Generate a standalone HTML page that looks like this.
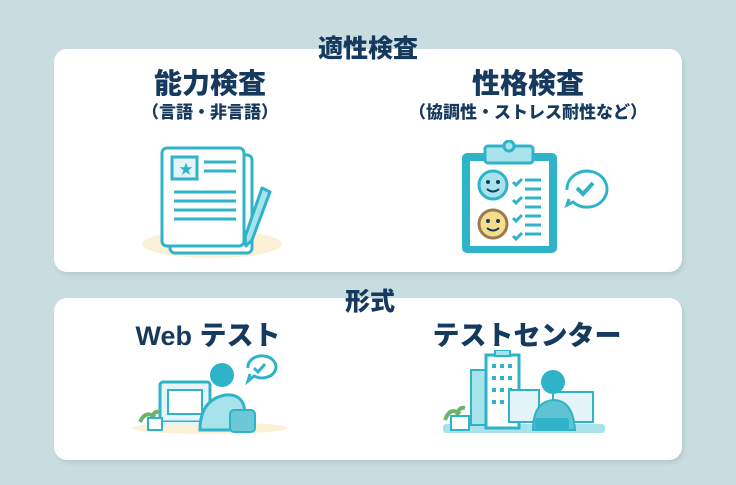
<!DOCTYPE html>
<html><head><meta charset="utf-8"><style>
html,body{margin:0;padding:0;}
body{width:736px;height:485px;background:#c8dde0;position:relative;overflow:hidden;font-family:"Liberation Sans","Noto Sans CJK JP",sans-serif;color:#16395e;font-weight:bold;}
.card{position:absolute;left:54px;width:628px;background:#fff;border-radius:13px;box-shadow:2px 3px 4px rgba(0,0,0,0.08);}
.t{position:absolute;white-space:nowrap;font-weight:900;text-align:center;}
svg{position:absolute;}
</style></head><body>
<div class="card" style="top:49px;height:223px"></div>
<div class="card" style="top:298px;height:162px"></div>

<div class="t" style="left:300px;width:136px;top:29px;font-size:25px;">適性検査</div>
<div class="t" style="left:130px;width:160px;top:62px;font-size:28px;">能力検査</div>
<div class="t" style="left:130px;width:160px;top:98px;font-size:17px;">（言語・非言語）</div>
<div class="t" style="left:448px;width:160px;top:62px;font-size:28px;">性格検査</div>
<div class="t" style="left:390px;width:276px;top:98px;font-size:17px;">（協調性・ストレス耐性など）</div>
<div class="t" style="left:320px;width:100px;top:282px;font-size:25px;">形式</div>
<div class="t" style="left:120px;width:176px;top:314px;font-size:27px;">Web テスト</div>
<div class="t" style="left:420px;width:214px;top:314px;font-size:27px;">テストセンター</div>

<!-- document icon -->
<svg style="left:140px;top:140px" width="150" height="120" viewBox="0 0 150 120">
<ellipse cx="72" cy="104" rx="70" ry="14" fill="#fbf1d6"/>
<rect x="30" y="15" width="82" height="98" rx="5" fill="#fff" stroke="#2fb3c8" stroke-width="3"/>
<rect x="22" y="8" width="82" height="98" rx="5" fill="#fff" stroke="#2fb3c8" stroke-width="3"/>
<rect x="32" y="17" width="25" height="22" fill="#e3f5f8" stroke="#2fb3c8" stroke-width="3"/>
<text x="39" y="34" font-size="14" fill="#2fb3c8">★</text>
<g stroke="#2fb3c8" stroke-width="3"><line x1="64" y1="22" x2="96" y2="22"/><line x1="64" y1="31" x2="96" y2="31"/><line x1="34" y1="52" x2="96" y2="52"/><line x1="34" y1="61" x2="96" y2="61"/><line x1="34" y1="70" x2="96" y2="70"/><line x1="34" y1="79" x2="96" y2="79"/></g>
<path d="M122 48 l8 4 -18 48 -6 6 -1 -9z" fill="#a8e3ec" stroke="#2fb3c8" stroke-width="3" stroke-linejoin="round"/>
</svg>

<!-- clipboard icon -->
<svg style="left:455px;top:140px" width="160" height="120" viewBox="0 0 160 120">
<rect x="7" y="13" width="95" height="100" rx="5" fill="#2fb3c8"/>
<rect x="15" y="21" width="79" height="85" fill="#fff"/>
<rect x="30" y="6" width="48" height="17" rx="3" fill="#a8e3ec" stroke="#2fb3c8" stroke-width="3"/>
<circle cx="54" cy="6" r="5" fill="#a8e3ec" stroke="#2fb3c8" stroke-width="3"/>
<circle cx="38" cy="45" r="14" fill="#a8e3ec" stroke="#2fb3c8" stroke-width="3"/>
<circle cx="38" cy="84" r="14" fill="#f5de8a" stroke="#9b7a50" stroke-width="3"/>
<g fill="#16395e"><circle cx="33" cy="42" r="2"/><circle cx="43" cy="42" r="2"/><circle cx="33" cy="81" r="2"/><circle cx="43" cy="81" r="2"/></g>
<path d="M32 49 q6 5 12 0 M32 88 q6 5 12 0" fill="none" stroke="#16395e" stroke-width="2"/>
<g stroke="#2fb3c8" stroke-width="3" fill="none"><path d="M58 42 l3 3 6-6 M58 60 l3 3 6-6 M58 78 l3 3 6-6 M58 96 l3 3 6-6"/><path d="M70 40h16 M70 49h16 M70 58h16 M70 67h16 M70 76h16 M70 85h16 M70 94h16"/></g>
<path d="M112 50 a20 18 0 1 1 6 12 l-6 3 2 -6" fill="#fff" stroke="#2fb3c8" stroke-width="3"/>
<path d="M122 48 l6 6 10-11" fill="none" stroke="#2fb3c8" stroke-width="4"/>
</svg>

<!-- web test icon -->
<svg style="left:130px;top:350px" width="160" height="85" viewBox="0 0 160 85">
<ellipse cx="80" cy="78" rx="78" ry="6" fill="#fbf1d6"/>
<rect x="30" y="32" width="50" height="40" rx="3" fill="#e3f5f8" stroke="#2fb3c8" stroke-width="3"/>
<rect x="38" y="40" width="34" height="24" fill="#fff" stroke="#2fb3c8" stroke-width="2"/>
<rect x="18" y="72" width="70" height="4" fill="#e3f5f8"/>
<path d="M70 80 q0-30 25-35 q20-2 20 20 v15z" fill="#a8e3ec" stroke="#2fb3c8" stroke-width="3"/>
<circle cx="92" cy="25" r="12" fill="#2fb3c8"/>
<rect x="100" y="60" width="25" height="22" rx="4" fill="#6cc7d6" stroke="#2fb3c8" stroke-width="2"/>
<path d="M10 72 q5-12 15-5 M22 72 q0-12 8-10" fill="none" stroke="#6cb36c" stroke-width="4"/>
<rect x="18" y="68" width="14" height="12" fill="#fff" stroke="#2fb3c8" stroke-width="2"/>
<path d="M118 18 a14 11 0 1 1 6 8 l-6 5 2-7" fill="#fff" stroke="#2fb3c8" stroke-width="3"/>
<path d="M124 18 l4 4 7-8" fill="none" stroke="#2fb3c8" stroke-width="3"/>
</svg>

<!-- test center icon -->
<svg style="left:443px;top:350px" width="165" height="85" viewBox="0 0 165 85">
<rect x="0" y="74" width="162" height="9" rx="3" fill="#a8e3ec"/>
<rect x="28" y="20" width="18" height="55" fill="#a8e3ec" stroke="#2fb3c8" stroke-width="2"/>
<rect x="43" y="5" width="33" height="73" fill="#fff" stroke="#2fb3c8" stroke-width="3"/>
<rect x="52" y="0" width="15" height="6" fill="#a8e3ec" stroke="#2fb3c8" stroke-width="2"/>
<g fill="#2fb3c8"><rect x="49" y="14" width="4" height="4"/><rect x="57" y="14" width="4" height="4"/><rect x="65" y="14" width="4" height="4"/><rect x="49" y="26" width="4" height="4"/><rect x="57" y="26" width="4" height="4"/><rect x="65" y="26" width="4" height="4"/><rect x="49" y="38" width="4" height="4"/><rect x="57" y="38" width="4" height="4"/><rect x="65" y="38" width="4" height="4"/><rect x="49" y="50" width="4" height="4"/><rect x="57" y="50" width="4" height="4"/><rect x="65" y="50" width="4" height="4"/></g>
<rect x="66" y="40" width="30" height="32" fill="#e3f5f8" stroke="#2fb3c8" stroke-width="2"/>
<rect x="110" y="42" width="40" height="30" fill="#e3f5f8" stroke="#2fb3c8" stroke-width="2"/>
<path d="M90 80 q0-28 20-30 q20 0 22 30z" fill="#5fc3d3" stroke="#2fb3c8" stroke-width="2"/>
<circle cx="110" cy="32" r="12" fill="#2fb3c8"/>
<rect x="92" y="68" width="34" height="12" rx="3" fill="#2fb3c8"/>
<path d="M2 70 q5-14 15-6 M14 70 q0-14 8-12" fill="none" stroke="#6cb36c" stroke-width="4"/>
<rect x="8" y="66" width="18" height="14" fill="#fff" stroke="#2fb3c8" stroke-width="2"/>
</svg>
</body></html>
